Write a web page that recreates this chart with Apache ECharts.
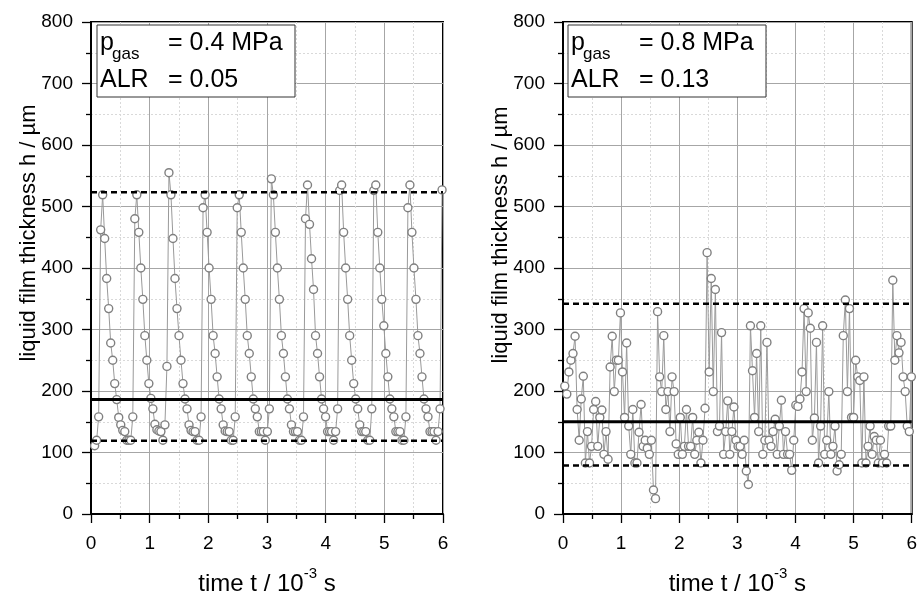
<!DOCTYPE html>
<html><head><meta charset="utf-8">
<script src="https://cdn.jsdelivr.net/npm/echarts@6/dist/echarts.min.js"></script>
<style>html,body{margin:0;padding:0;background:#fff}#c{width:920px;height:601px}</style>
</head><body><div id="c"></div><script>
// ---- data ----
const leftH = [111,120,158,462,519,
 448,383,334,278,250,212,186,157,145,136,134,120,120,120,158,480,519,
 458,400,349,290,250,212,188,171,146,137,135,134,120,145,240,555,519,
 448,383,334,290,250,212,187,171,145,136,134,134,120,120,158,498,519,
 458,400,349,290,261,223,187,171,145,135,134,134,120,120,158,498,519,
 458,400,349,290,261,223,187,171,158,134,134,134,120,134,171,545,519,
 458,400,349,290,261,223,187,171,145,134,134,134,120,120,158,480,535,
 471,415,365,290,261,223,187,171,158,134,134,134,120,134,171,526,535,
 458,400,349,290,250,212,187,171,145,134,134,134,120,120,171,526,535,
 458,400,349,306,261,223,187,171,158,134,134,134,120,120,158,498,535,
 458,400,349,290,261,223,187,171,158,134,134,134,120,134,171,527];
const rightH = [208,195,231,250,261,289,170,120,187,224, 83,134,83,110,170,183,110,157,169,97,
 134,89,239,289,199,250,250,327,231,157, 278,143,97,170,83,83,133,178,110,120,
 107,97,120,39,25,329,223,199,290,170, 199,134,223,199,114,97,157,97,110,170,
 110,110,157,97,120,133,83,120,172,425, 231,383,199,365,134,143,295,97,134,184,
 97,134,174,120,110,110,97,120,70,48, 306,233,157,261,134,306,97,120,279,120,
 110,134,154,97,143,185,97,134,97,97, 71,120,177,175,187,231,334,199,327,302,
 120,156,279,83,143,306,97,120,199,97, 110,143,70,80,97,290,348,199,334,157,
 157,250,223,217,83,223,83,110,143,97, 126,120,83,120,83,97,83,143,143,380,
 250,290,262,279,223,199,143,134,223];
const leftTime = [0.062, 0.03423];   // first sample time, sample interval (10^-3 s)
const rightTime = [0.03, 0.0355];
const leftLevels = [186, 523, 119];   // mean, upper, lower (µm)
const rightLevels = [150, 342, 79];
const pressures = ['0.4 MPa', '0.8 MPa'];
const alrs = ['0.05', '0.13'];
const xRange = [0, 6], yRange = [0, 800];

const FONT = '"Liberation Sans", Arial, sans-serif';
function pts(h, tm){ return h.map((v,i)=>[+(tm[0]+i*tm[1]).toFixed(4), v]); }

const chart = echarts.init(document.getElementById('c'), null, {renderer:'canvas'});
const grids = [
  {left:91, top:22, width:352, height:500, show:true, borderColor:'#000', borderWidth:2, backgroundColor:'transparent'},
  {left:563, top:22, width:353, height:500, show:true, borderColor:'#000', borderWidth:2, backgroundColor:'transparent'}
];
function xAx(i){ return {gridIndex:i, type:'value', min:xRange[0], max:xRange[1], interval:1,
  name:'{a|time t / 10}{s|-3}{a| s}', nameLocation:'middle', nameGap:52,
  nameTextStyle:{rich:{a:{fontSize:24, fontFamily:FONT, color:'#000', lineHeight:30, verticalAlign:'bottom'},
                       s:{fontSize:15, fontFamily:FONT, color:'#000', verticalAlign:'top', lineHeight:14}}},
  axisLine:{onZero:false, lineStyle:{color:'#000', width:2}},
  axisTick:{inside:false, length:9, lineStyle:{color:'#000', width:1.3}},
  minorTick:{show:true, splitNumber:2, length:5, lineStyle:{color:'#000', width:1.3}},
  axisLabel:{fontSize:19, fontFamily:FONT, color:'#000', margin:20},
  splitLine:{show:true, lineStyle:{color:'#a6a6a6', width:1}},
  minorSplitLine:{show:true, lineStyle:{color:'#d9d9d9', width:1, type:[2,2]}}
};}
function yAx(i){ return {gridIndex:i, type:'value', min:yRange[0], max:yRange[1], interval:100,
  axisLine:{onZero:false, lineStyle:{color:'#000', width:2}},
  axisTick:{inside:false, length:9, lineStyle:{color:'#000', width:1.3}},
  minorTick:{show:true, splitNumber:2, length:5, lineStyle:{color:'#000', width:1.3}},
  axisLabel:{fontSize:19, fontFamily:FONT, color:'#000', margin:18},
  splitLine:{show:true, lineStyle:{color:'#a6a6a6', width:1}},
  minorSplitLine:{show:true, lineStyle:{color:'#d9d9d9', width:1, type:[2,2]}}
};}
function dataSeries(i, h, tm){ return {type:'line', xAxisIndex:i, yAxisIndex:i, data:pts(h,tm),
  symbol:'circle', symbolSize:8, showAllSymbol:true, z:3,
  lineStyle:{color:'#999999', width:1}, itemStyle:{color:'#ffffff', borderColor:'#808080', borderWidth:1.4},
  emphasis:{disabled:true}, animation:false}; }
function levelSeries(i, v, dashed){ return {type:'line', xAxisIndex:i, yAxisIndex:i,
  data:[[xRange[0], v],[xRange[1], v]], symbol:'none', z:5, silent:true,
  lineStyle:{color:'#000', width: dashed?2.5:3, type: dashed?[6,4]:'solid'}, animation:false}; }

function textEl(x, y, s, size, rot){ return {type:'text', x:x, y:y, rotation:rot||0, z:100,
  style:{text:s, fontSize:size, fontFamily:FONT, fill:'#000', textAlign: rot?'center':'left', align: rot?'center':'left',
         textVerticalAlign:'middle', verticalAlign:'middle'}}; }
function box(dx, i){ return [
  {type:'rect', z:90, shape:{x:97+dx, y:25, width:198, height:72}, style:{fill:'#fff', stroke:'#333', lineWidth:1}},
  textEl(100+dx, 43, 'p', 25), textEl(112+dx, 54, 'gas', 17), textEl(168+dx, 43, '= ' + pressures[i], 25),
  textEl(100+dx, 80, 'ALR', 25), textEl(168+dx, 80, '= ' + alrs[i], 25)
]; }

const graphic = [].concat(box(0,0), box(471,1),
  [textEl(29, 233, 'liquid film thickness h / µm', 22, Math.PI/2), textEl(501, 235, 'liquid film thickness h / µm', 22, Math.PI/2)]);

chart.setOption({
  animation:false,
  grid:grids,
  xAxis:[xAx(0), xAx(1)],
  yAxis:[yAx(0), yAx(1)],
  series:[dataSeries(0,leftH,leftTime), dataSeries(1,rightH,rightTime),
    levelSeries(0,leftLevels[0],false), levelSeries(0,leftLevels[1],true), levelSeries(0,leftLevels[2],true),
    levelSeries(1,rightLevels[0],false), levelSeries(1,rightLevels[1],true), levelSeries(1,rightLevels[2],true)],
  graphic:graphic
});
</script></body></html>
